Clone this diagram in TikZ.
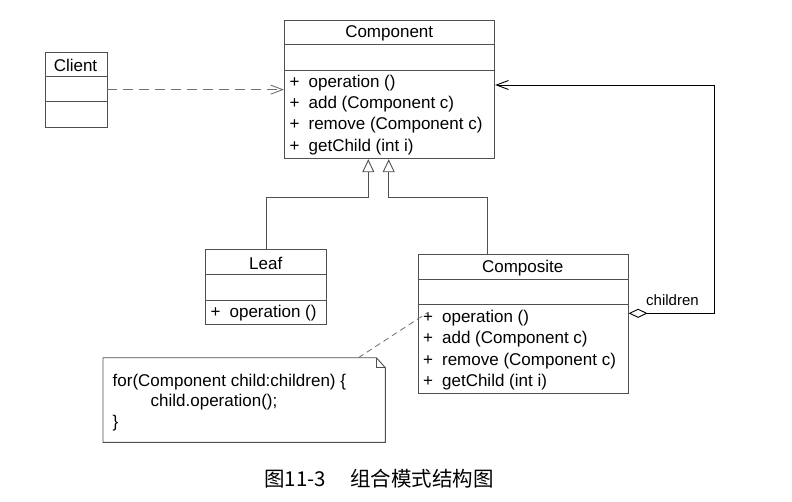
\documentclass[tikz,border=0pt]{standalone}
\usepackage{fontspec}
\setmainfont{Liberation Sans}
\newfontfamily\cjkfont{Noto Sans CJK SC}
\usetikzlibrary{arrows.meta,calc}
\definecolor{linegray}{RGB}{80,80,80}
\definecolor{dashgray}{RGB}{110,110,110}
\tikzset{
  umlbox/.style={draw=linegray, line width=0.9pt, rectangle, anchor=north west, inner sep=0pt, fill=white},
  sepline/.style={draw=linegray, line width=0.9pt},
  mtext/.style={anchor=west, inner sep=0pt, font=\fontsize{17}{20}\selectfont},
  ttext/.style={anchor=center, inner sep=0pt, font=\fontsize{17}{20}\selectfont},
  dep/.style={draw=dashgray, line width=0.9pt, dash pattern=on 10pt off 6pt, -{Straight Barb[length=12pt,width=9pt]}},
  gen/.style={draw=linegray, line width=0.9pt, -{Triangle[open,length=13pt,width=12pt,fill=white]}},
  agg/.style={draw=black, line width=0.9pt, {Diamond[open,length=19pt,width=9pt,fill=white]}-{Straight Barb[length=12pt,width=9pt]}},
  notelink/.style={draw=dashgray, line width=0.8pt, dash pattern=on 6pt off 4pt},
  noteshape/.style={draw=linegray, line width=0.9pt}
}
\begin{document}
\begin{tikzpicture}[x=1pt,y=-1pt]
\useasboundingbox (0,0) rectangle (792,501);
% Client
\node[umlbox, minimum width=62pt, minimum height=75pt] (client) at (44.5,51.7) {};
\draw[sepline] ($(client.north west)+(0,25)$) -- ++(62,0);
\draw[sepline] ($(client.north west)+(0,50)$) -- ++(62,0);
\node[ttext] (clientname) at (75.5,65.2) {Client};
% Component
\node[umlbox, minimum width=210.3pt, minimum height=138.3pt] (component) at (284,20) {};
\draw[sepline] ($(component.north west)+(0,24.3)$) -- ++(210.3,0);
\draw[sepline] ($(component.north west)+(0,50.3)$) -- ++(210.3,0);
\node[ttext] (compname) at (389.2,33.2) {Component};
\node[mtext] (c1) at (289.5,83) {+\hspace{9pt}operation ()};
\node[mtext] (c2) at (289.5,104.3) {+\hspace{9pt}add (Component c)};
\node[mtext] (c3) at (289.5,125.6) {+\hspace{9pt}remove (Component c)};
\node[mtext] (c4) at (289.5,146.9) {+\hspace{9pt}getChild (int i)};
% Leaf
\node[umlbox, minimum width=120.7pt, minimum height=74.7pt] (leaf) at (205.3,249.3) {};
\draw[sepline] ($(leaf.north west)+(0,24.7)$) -- ++(120.7,0);
\draw[sepline] ($(leaf.north west)+(0,50.7)$) -- ++(120.7,0);
\node[ttext] (leafname) at (265.7,263) {Leaf};
\node[mtext] (l1) at (210.5,313) {+\hspace{9pt}operation ()};
% Composite
\node[umlbox, minimum width=210pt, minimum height=138.4pt] (composite) at (417.7,254.3) {};
\draw[sepline] ($(composite.north west)+(0,25)$) -- ++(210,0);
\draw[sepline] ($(composite.north west)+(0,50)$) -- ++(210,0);
\node[ttext] (compositename) at (522.7,268) {Composite};
\node[mtext] (p1) at (423,318) {+\hspace{9pt}operation ()};
\node[mtext] (p2) at (423,339.3) {+\hspace{9pt}add (Component c)};
\node[mtext] (p3) at (423,360.6) {+\hspace{9pt}remove (Component c)};
\node[mtext] (p4) at (423,381.9) {+\hspace{9pt}getChild (int i)};
% Note
\node[anchor=north west, inner sep=0pt, minimum width=282pt, minimum height=84.3pt] (note) at (103,357.7) {};
\draw[noteshape] (note.north west) -- ($(note.north east)+(-9,0)$) -- ($(note.north east)+(0,10)$) -- (note.south east) -- (note.south west) -- cycle;
\draw[noteshape] ($(note.north east)+(-9,0)$) -- ($(note.north east)+(-9,10)$) -- ($(note.north east)+(0,10)$);
\node[mtext] (n1) at (112.5,382) {for(Component child:children) \{};
\node[mtext] (n2) at (150.5,402.5) {child.operation();};
\node[mtext] (n3) at (112.5,423) {\}};
% connectors
\draw[dep] (client.east) -- (client.east -| component.west);
\coordinate (g1) at (368.3,197.7);
\coordinate (g2) at (388.7,197.7);
\coordinate (cx) at (487.3,197.7);
\draw[gen] (leaf.north) |- (g1) -- (g1 |- component.south);
\draw[gen] (cx |- composite.north) -- (cx) -- (g2) -- (g2 |- component.south);
\coordinate (a1) at (714.5,313.3);
\coordinate (a2) at (714.5,85);
\draw[agg] (composite.east |- a1) -- (a1) -- (a2) -- (a2 -| component.east);
\node[anchor=south west, inner sep=0pt, font=\fontsize{15}{18}\selectfont] (childlabel) at (646,306) {children};
\coordinate (opc) at (427,313);
\draw[notelink] ($(note.north east)+(-27,0)$) -- (opc);
% caption
\node[inner sep=0pt, font=\cjkfont\fontsize{20.5}{24}\selectfont] (caption) at (379,479) {图11-3\hspace{24pt}组合模式结构图};
\end{tikzpicture}
\end{document}
